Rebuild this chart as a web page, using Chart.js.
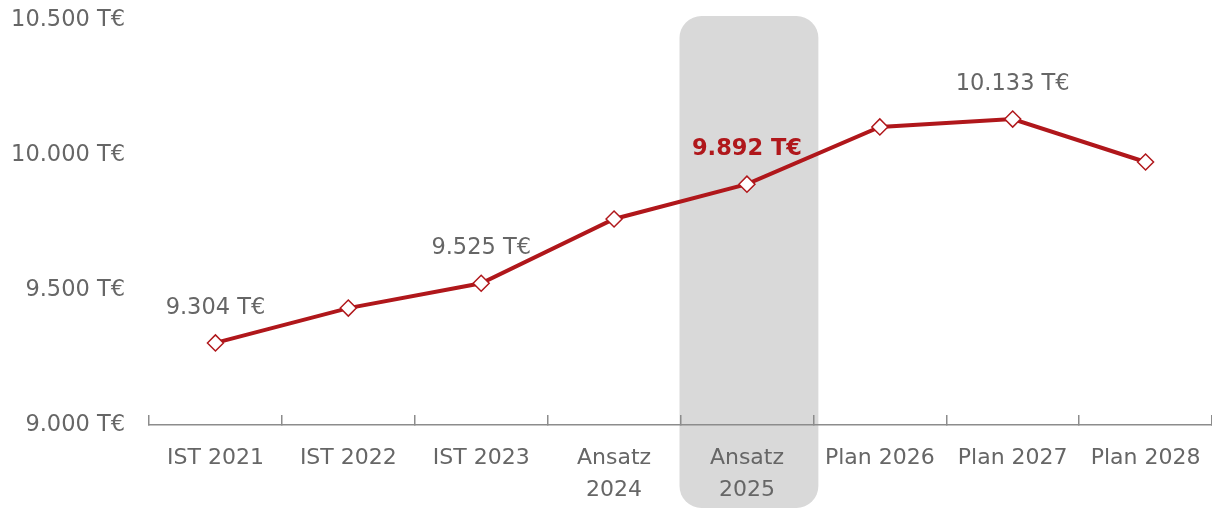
<!DOCTYPE html>
<html>
<head>
<meta charset="utf-8">
<script src="https://cdn.jsdelivr.net/npm/chart.js@4.4.1/dist/chart.umd.min.js"></script>
<style>
  html, body { margin: 0; padding: 0; background: #fff; }
  #wrap { width: 1212px; height: 508px; }
</style>
</head>
<body>
<div id="wrap"><canvas id="chart"></canvas></div>
<script>
// Werte (T€)
const categories = [['IST 2021'], ['IST 2022'], ['IST 2023'], ['Ansatz', '2024'], ['Ansatz', '2025'], ['Plan 2026'], ['Plan 2027'], ['Plan 2028']];
const values = [9304, 9433, 9525, 9763, 9892, 10104, 10133, 9974];
const labelledPoints = [0, 2, 4, 6];
const highlightIndex = 4;
const yTicks = [9000, 9500, 10000, 10500];

const red = '#b0171b';
const grey = '#666666';
const font = 'DejaVu Sans';

function fmt(n) {
  return String(n).replace(/\B(?=(\d{3})+(?!\d))/g, '.') + ' T€';
}

// grauer Kasten hinter dem Ansatz 2025
const highlightBox = {
  id: 'highlightBox',
  beforeDraw(chart) {
    const x = chart.scales.x;
    const ctx = chart.ctx;
    const half = (x.getPixelForValue(1) - x.getPixelForValue(0)) / 2;
    const cx = x.getPixelForValue(highlightIndex);
    const left = cx - half - 1;
    const right = cx + half + 5;
    const top = chart.chartArea.top - 4;
    const bottom = chart.height;
    ctx.save();
    ctx.fillStyle = '#d9d9d9';
    ctx.beginPath();
    ctx.roundRect(left, top, right - left, bottom - top, 22);
    ctx.fill();
    ctx.restore();
  }
};

// Beschriftung einzelner Punkte
const pointLabels = {
  id: 'pointLabels',
  afterDatasetsDraw(chart) {
    const ctx = chart.ctx;
    const meta = chart.getDatasetMeta(0);
    ctx.save();
    ctx.textAlign = 'center';
    ctx.textBaseline = 'middle';
    labelledPoints.forEach(i => {
      const el = meta.data[i];
      if (i === highlightIndex) {
        ctx.font = 'bold 22.5px "' + font + '"';
        ctx.fillStyle = red;
      } else {
        ctx.font = '22.5px "' + font + '"';
        ctx.fillStyle = grey;
      }
      ctx.fillText(fmt(values[i]), el.x, el.y - 35);
    });
    ctx.restore();
  }
};

const ctx = document.getElementById('chart').getContext('2d');

new Chart(ctx, {
  type: 'line',
  data: {
    labels: categories,
    datasets: [{
      data: values,
      borderColor: red,
      borderWidth: 4,
      pointStyle: 'rectRot',
      pointRadius: 8,
      pointHoverRadius: 8,
      pointBackgroundColor: '#ffffff',
      pointBorderColor: red,
      pointBorderWidth: 1.5,
      tension: 0,
      fill: false
    }]
  },
  options: {
    responsive: true,
    maintainAspectRatio: false,
    animation: false,
    events: [],
    layout: { autoPadding: false, padding: { top: 20, right: 0, bottom: 0, left: 0 } },
    plugins: {
      legend: { display: false },
      tooltip: { enabled: false }
    },
    scales: {
      x: {
        offset: true,
        afterFit(scale) {
          scale.height = 83;
          scale.paddingLeft = 0;
          scale.paddingRight = 0;
        },
        border: { display: true, color: '#8c8c8c', width: 1.5 },
        grid: {
          display: true,
          drawOnChartArea: false,
          drawTicks: true,
          tickLength: -10,
          color: '#8c8c8c',
          lineWidth: 1.5,
          offset: true
        },
        ticks: {
          color: grey,
          font: { family: font, size: 22, lineHeight: 1.45 },
          padding: 27,
          maxRotation: 0,
          autoSkip: false
        }
      },
      y: {
        min: 9000,
        max: 10500,
        afterFit(scale) {
          scale.width = 149;
          scale.paddingTop = 0;
          scale.paddingBottom = 0;
        },
        afterBuildTicks(scale) { scale.ticks = yTicks.map(v => ({ value: v })); },
        border: { display: false },
        grid: { display: false, drawTicks: false },
        ticks: {
          color: grey,
          font: { family: font, size: 22.5 },
          padding: 24,
          callback: v => fmt(v)
        }
      }
    }
  },
  plugins: [highlightBox, pointLabels]
});
</script>
</body>
</html>
